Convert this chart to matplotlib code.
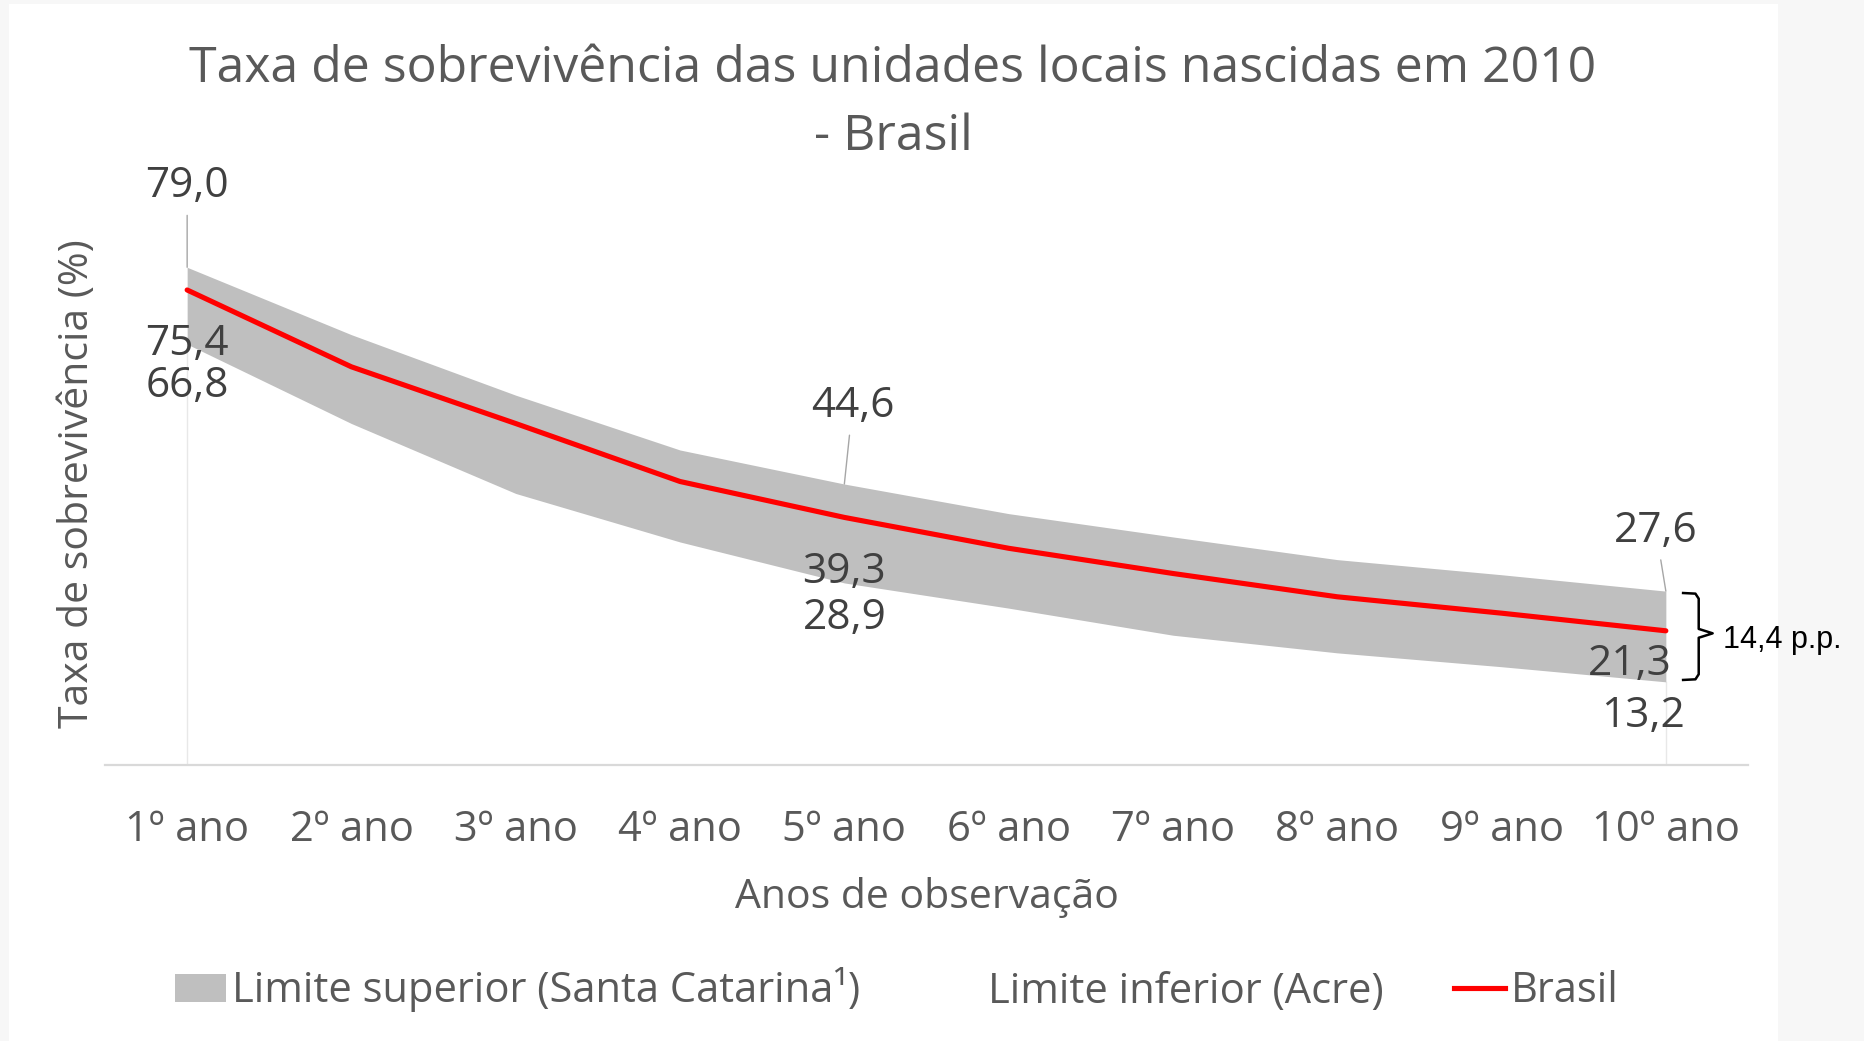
import matplotlib.pyplot as plt
from matplotlib.patches import Rectangle, Patch
from matplotlib.lines import Line2D

plt.rcParams['font.family'] = ['Open Sans', 'DejaVu Sans']

anos = ['1º ano', '2º ano', '3º ano', '4º ano', '5º ano',
        '6º ano', '7º ano', '8º ano', '9º ano', '10º ano']
limite_sup = [79.0, 68.3, 58.7, 50.0, 44.6, 39.9, 36.2, 32.6, 30.2, 27.6]
brasil = [75.4, 63.2, 54.2, 45.0, 39.3, 34.4, 30.4, 26.7, 24.1, 21.3]
limite_inf = [66.8, 54.2, 43.1, 35.4, 28.9, 24.9, 20.6, 17.8, 15.6, 13.2]
rotulo_idx = [0, 4, 9]
diferenca = '14,4 p.p.'

cinza_txt = '#595959'
cinza_dado = '#404040'

W, H = 1864, 1041
fig = plt.figure(figsize=(W / 100, H / 100), dpi=100, facecolor='#f7f7f7')
fig.patches.append(Rectangle((9 / W, 0), (1778 - 9) / W, 1 - 4 / H,
                             transform=fig.transFigure, facecolor='white',
                             edgecolor='none', zorder=-10))

ax = fig.add_axes([105 / W, (H - 765) / H, (1748 - 105) / W, (765 - 135) / H])
ax.set_facecolor('none')
x = list(range(len(anos)))

ax.fill_between(x, limite_inf, limite_sup, color='#bfbfbf', linewidth=0, zorder=1)
ax.plot(x, brasil, color='#ff0000', lw=3.7, solid_capstyle='round',
        solid_joinstyle='round', zorder=3)
for i in (0, len(x) - 1):
    ax.plot([i, i], [0, limite_inf[i]], color='#e8e8e8', lw=1, zorder=0.5)

ax.set_xlim(-0.5, len(x) - 0.5)
ax.set_ylim(0, 100)
ax.set_xticks(x)
ax.set_xticklabels(anos, fontsize=30, color=cinza_txt)
ax.tick_params(axis='x', length=0, pad=32)
ax.set_yticks([])
for s in ['top', 'right', 'left']:
    ax.spines[s].set_visible(False)
ax.spines['bottom'].set_color('#d9d9d9')
ax.spines['bottom'].set_linewidth(1.6)

ax.set_xlabel('Anos de observação', fontsize=29.5, color=cinza_txt)
ax.xaxis.set_label_coords(0.5, -0.178)
ax.set_ylabel('Taxa de sobrevivência (%)', fontsize=29.5, color=cinza_txt)
ax.yaxis.set_label_coords(-0.004, 0.446)

# rotulos de dados
pos_sup = {0: (0.0, 91.9), 4: (4.05, 57.0), 9: (8.94, 37.2)}
pos_br = {0: (0.0, 66.9), 4: (4.0, 30.7), 9: (8.78, 16.0)}
pos_inf = {0: (0.0, 60.2), 4: (4.0, 23.3), 9: (8.86, 7.7)}
for i in rotulo_idx:
    ax.annotate(f'{limite_sup[i]:.1f}'.replace('.', ','), xy=(i, limite_sup[i]),
                xytext=pos_sup[i], textcoords='data', ha='center', va='center',
                fontsize=30.5, color=cinza_dado,
                arrowprops=dict(arrowstyle='-', color='#a6a6a6', lw=1,
                                shrinkA=4, shrinkB=0))
    ax.text(*pos_br[i], f'{brasil[i]:.1f}'.replace('.', ','), ha='center',
            va='center', fontsize=30.5, color=cinza_dado, zorder=4)
    ax.text(*pos_inf[i], f'{limite_inf[i]:.1f}'.replace('.', ','), ha='center',
            va='center', fontsize=30.5, color=cinza_dado, zorder=4)

# chave no ultimo ano
top, bot = limite_sup[-1], limite_inf[-1]
mid = (top + bot) / 2
x0 = len(x) - 1
bx = [x0 + 0.105, x0 + 0.18, x0 + 0.2, x0 + 0.2, x0 + 0.285,
      x0 + 0.2, x0 + 0.2, x0 + 0.18, x0 + 0.105]
by = [top - 0.3, top - 0.4, top - 1.2, mid + 1.2, mid + 0.5,
      mid - 0.2, bot + 1.2, bot + 0.4, bot + 0.3]
ax.plot(bx, by, color='black', lw=1.8, clip_on=False, solid_joinstyle='round')
ax.text(x0 + 0.345, mid - 0.6, diferenca, fontsize=22, color='black',
        family=['Liberation Sans'], ha='left', va='center')

fig.text(893 / W, 1 - 103 / H,
         'Taxa de sobrevivência das unidades locais nascidas em 2010\n- Brasil',
         ha='center', va='center', fontsize=36, color=cinza_txt, linespacing=1.48)

handles = [Patch(facecolor='#bfbfbf', edgecolor='none'),
           Patch(facecolor='none', edgecolor='none'),
           Line2D([], [], color='#ff0000', lw=3.7)]
labels = ['Limite superior (Santa Catarina¹)', 'Limite inferior (Acre)', 'Brasil']
leg = fig.legend(handles, labels, loc='center', bbox_to_anchor=(897 / W, 1 - 990 / H),
                 ncol=3, frameon=False, fontsize=30, handlelength=1.22,
                 handleheight=0.66, handletextpad=0.14, columnspacing=1.7)
for t in leg.get_texts():
    t.set_color(cinza_txt)

fig.savefig('out.png', dpi=100, facecolor=fig.get_facecolor())
